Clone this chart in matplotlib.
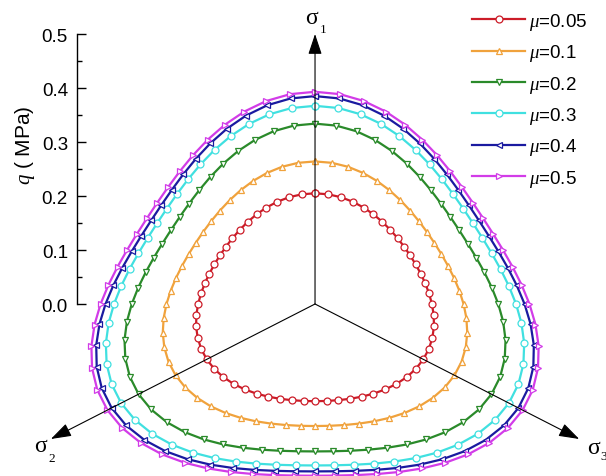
import numpy as np
import matplotlib
matplotlib.use("Agg")
import matplotlib.pyplot as plt

plt.rcParams["font.family"] = ["Liberation Sans", "DejaVu Sans"]
plt.rcParams["mathtext.fontset"] = "custom"
plt.rcParams["mathtext.it"] = "Liberation Serif:italic"
plt.rcParams["mathtext.rm"] = "Liberation Sans"

# data
mu_labels = ["0.05", "0.1", "0.2", "0.3", "0.4", "0.5"]
q_comp = [0.205, 0.264, 0.334, 0.367, 0.385, 0.393]   # radius along sigma_1 (MPa)
q_ext = [0.180, 0.226, 0.273, 0.299, 0.310, 0.318]    # radius opposite sigma_1 (MPa)
colors = ["#cc1c28", "#f0a23c", "#2a8a2a", "#40e0e0", "#1a1aa0", "#d23ce8"]
markers = ["o", "^", "v", "o", "<", ">"]
yticks = [0.0, 0.1, 0.2, 0.3, 0.4, 0.5]
yminor = [0.05, 0.15, 0.25, 0.35, 0.45]
axis_len = 0.5
axis_dirs = [90, 210, 330]   # sigma_1, sigma_2, sigma_3 (deg)

# deviatoric-plane angle, one marker every 6 degrees
ang = np.deg2rad(np.arange(90, 451, 6))

fig = plt.figure(figsize=(6.06, 4.77), dpi=100)
ax = fig.add_axes([77 / 606, 0, 529 / 606, 1])
ax.set_xlim(-0.3902, 0.477)
ax.set_ylim(-(477 - 305) / 540, 305 / 540)

for lab, rc, rt, c, m in zip(mu_labels, q_comp, q_ext, colors, markers):
    K = rt / rc
    r = 2 * K * rc / ((1 + K) - (1 - K) * np.cos(3 * (ang - np.pi / 2)))
    ax.plot(r * np.cos(ang), r * np.sin(ang), color=c, lw=1.6,
            marker=m, ms=5, mfc="white", mec=c, mew=0.9,
            label=r"$\mu$=" + lab, zorder=3, clip_on=False)

# principal stress axes
for a in axis_dirs:
    tip = (axis_len * np.cos(np.deg2rad(a)), axis_len * np.sin(np.deg2rad(a)))
    ax.annotate("", xy=tip, xytext=(0, 0), annotation_clip=False,
                arrowprops=dict(arrowstyle="-|>,head_length=0.9,head_width=0.3",
                                color="#404040", lw=0.8, mutation_scale=14,
                                shrinkA=0, shrinkB=0, fc="black", ec="black"),
                zorder=4)

# the q axis
for s in ["top", "right", "bottom"]:
    ax.spines[s].set_visible(False)
ax.spines["left"].set_bounds(0, 0.5)
ax.spines["left"].set_linewidth(1.0)
ax.set_xticks([])
ax.set_yticks(yticks)
ax.set_yticks(yminor, minor=True)
ax.set_yticklabels([f"{v:.1f}" for v in yticks])
ax.tick_params(axis="y", which="major", direction="in", length=6.3, width=1.0,
               pad=6.5, labelsize=13.5)
ax.tick_params(axis="y", which="minor", direction="in", length=3.6, width=1.0)

fig.text(25 / 606, 1 - 145 / 477, r"$q$ ( MPa)", rotation=90,
         ha="center", va="center", fontsize=15)

# sigma labels (pixel positions of the reference)
def ptext(x, y, s, size, **kw):
    fig.text(x / 606, 1 - y / 477, s, fontsize=size, family="Liberation Serif",
             va="baseline", **kw)

ptext(312, 24, "σ", 17, ha="center")
ptext(320, 33, "1", 9.5, ha="left")
ptext(40.5, 452, "σ", 17, ha="center")
ptext(48, 462, "2", 9.5, ha="left")
ptext(593, 454, "σ", 17, ha="center")
ptext(600, 460, "3", 9.5, ha="left")

ax.legend(loc="upper left", bbox_to_anchor=(472 / 606, 1 - 12 / 477),
          bbox_transform=fig.transFigure, frameon=False, fontsize=13.5,
          handlelength=2.85, handletextpad=0.2, labelspacing=0.55,
          borderpad=0, borderaxespad=0)

fig.savefig("out.png", dpi=100)
